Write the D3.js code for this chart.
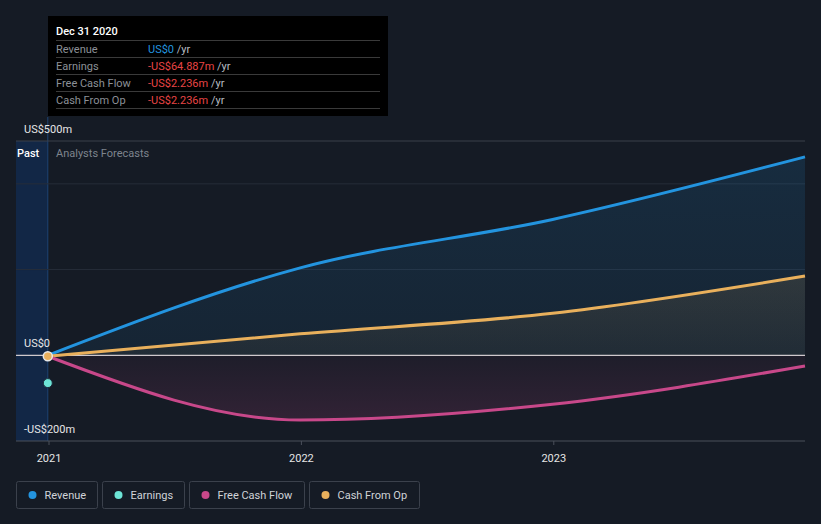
<!DOCTYPE html>
<html><head><meta charset="utf-8">
<script src="https://cdn.jsdelivr.net/npm/d3@7"></script>
<style>
html,body{margin:0;padding:0;background:#151b25;}
svg{display:block;font-family:Roboto,"Noto Sans",sans-serif;}
</style></head>
<body><svg id="c" width="821" height="524"></svg>
<script>
const dates = ["2020-12-31","2021-12-31","2022-12-31","2023-12-31"];
const revenue = [0, 204, 317, 463];
const cashFromOp = [-2.236, 50, 98, 185];
const freeCashFlow = [-2.236, -151, -114, -25];
const earningsDate = "2020-12-31";
const earnings = [-64.887];
const yTickLabels = [{v:500,t:"US$500m"},{v:0,t:"US$0"},{v:-200,t:"-US$200m"}];
const gridValues = [400, 200];
const xTicks = ["2021-01-01","2022-01-01","2023-01-01"];
const legendItems = ["Revenue","Earnings","Free Cash Flow","Cash From Op"];
const colors = {"Revenue":"#2394df","Earnings":"#6de4d6","Free Cash Flow":"#c8488a","Cash From Op":"#e9b05c"};
const tooltipRows = [
  {label:"Revenue", value:"US$0", color:"#2394df"},
  {label:"Earnings", value:"-US$64.887m", color:"#e84545"},
  {label:"Free Cash Flow", value:"-US$2.236m", color:"#e84545"},
  {label:"Cash From Op", value:"-US$2.236m", color:"#e84545"}
];

const parse = d3.timeParse("%Y-%m-%d");
const svg = d3.select("#c");
const x = d3.scaleTime().domain([parse("2020-11-15"), parse("2023-12-31")]).range([16, 805]);
const y = d3.scaleLinear().domain([-200, 500]).range([441, 141]);

const defs = svg.append("defs");
function grad(id, c, o1, o2){
  const g = defs.append("linearGradient").attr("id", id).attr("x1",0).attr("y1",0).attr("x2",0).attr("y2",1);
  g.append("stop").attr("offset","0%").attr("stop-color",c).attr("stop-opacity",o1);
  g.append("stop").attr("offset","100%").attr("stop-color",c).attr("stop-opacity",o2);
}
grad("gRev", "#2394df", 0.14, 0.08);
grad("gCfo", "#e9b05c", 0.12, 0.05);
grad("gFcf", "#c8488a", 0.05, 0.16);

// past region
const pastEnd = x(parse("2020-12-31"));
svg.append("rect").attr("x", 16).attr("y", 141).attr("width", pastEnd - 16).attr("height", 300).attr("fill", "#122746");
svg.append("line").attr("x1", pastEnd).attr("x2", pastEnd).attr("y1", 117).attr("y2", 441).attr("stroke", "#1d4474").attr("stroke-width", 1);

// gridlines
svg.selectAll(".grid").data(gridValues).join("line")
  .attr("x1", 16).attr("x2", 805).attr("y1", d => y(d)).attr("y2", d => y(d))
  .attr("stroke", "#262d39").attr("stroke-width", 1);
svg.append("line").attr("x1", 16).attr("x2", 805).attr("y1", y(500)).attr("y2", y(500)).attr("stroke", "#3a404a");

const pts = (arr) => arr.map((v,i) => ({d: parse(dates[i]), v}));
const curve = d3.curveMonotoneX;
const area = d3.area().x(d => x(d.d)).y0(y(0)).y1(d => y(d.v)).curve(curve);
const line = d3.line().x(d => x(d.d)).y(d => y(d.v)).curve(curve);

svg.append("path").attr("d", area(pts(revenue))).attr("fill", "url(#gRev)");
svg.append("path").attr("d", area(pts(cashFromOp))).attr("fill", "url(#gCfo)");
svg.append("path").attr("d", area(pts(freeCashFlow))).attr("fill", "url(#gFcf)");

// zero line
svg.append("line").attr("x1", 16).attr("x2", 805).attr("y1", y(0)).attr("y2", y(0)).attr("stroke", "#cfc8cc").attr("stroke-width", 1.2);

svg.append("path").attr("d", line(pts(revenue))).attr("fill","none").attr("stroke", colors["Revenue"]).attr("stroke-width", 3);
svg.append("path").attr("d", line(pts(cashFromOp))).attr("fill","none").attr("stroke", colors["Cash From Op"]).attr("stroke-width", 3);
svg.append("path").attr("d", line(pts(freeCashFlow))).attr("fill","none").attr("stroke", colors["Free Cash Flow"]).attr("stroke-width", 3);

// dots
svg.append("circle").attr("cx", x(parse(earningsDate))).attr("cy", y(earnings[0])).attr("r", 4.5)
  .attr("fill", colors["Earnings"]).attr("stroke", "#1b2a3a").attr("stroke-width", 1);
svg.append("circle").attr("cx", x(parse(dates[0]))).attr("cy", y(cashFromOp[0])).attr("r", 4.5)
  .attr("fill", colors["Cash From Op"]).attr("stroke", "#e8e8e8").attr("stroke-width", 1.5);

// x axis
svg.append("line").attr("x1", 16).attr("x2", 805).attr("y1", 441).attr("y2", 441).attr("stroke", "#4a505b").attr("stroke-width", 1);
const xAxisG = svg.append("g").attr("transform", "translate(0,441)");
xAxisG.call(d3.axisBottom(x).tickValues(xTicks.map(parse)).tickSize(4).tickFormat(d3.timeFormat("%Y")));
xAxisG.select(".domain").remove();
xAxisG.selectAll(".tick line").attr("stroke", "#4a505b");
xAxisG.selectAll(".tick text").attr("fill", "#e6e6e6").attr("font-size", 11).attr("dy", "1.3em").attr("font-family","Roboto, sans-serif");

// y labels
svg.selectAll(".ylab").data(yTickLabels).join("text")
  .attr("x", 24).attr("y", d => y(d.v) - 8).attr("fill", "#e6e6e6").attr("font-size", 11)
  .text(d => d.t);

svg.append("text").attr("x", 17).attr("y", 157).attr("fill", "#ffffff").attr("font-size", 11).attr("font-weight", 500).text("Past");
svg.append("text").attr("x", 56).attr("y", 157).attr("fill", "#7e848d").attr("font-size", 11).text("Analysts Forecasts");

// tooltip
const tt = svg.append("g");
tt.append("rect").attr("x", 48).attr("y", 16).attr("width", 340).attr("height", 100).attr("fill", "#000");
tt.append("text").attr("x", 56).attr("y", 35).attr("fill", "#fff").attr("font-size", 11).attr("font-weight", 500).text("Dec 31 2020");
tooltipRows.forEach((r, i) => {
  const yy = 40 + i * 17;
  tt.append("line").attr("x1", 56).attr("x2", 380).attr("y1", yy + 0.5).attr("y2", yy + 0.5).attr("stroke", "#3a3a3a");
  tt.append("text").attr("x", 56).attr("y", yy + 13).attr("fill", "#8c9097").attr("font-size", 11).text(r.label);
  const t = tt.append("text").attr("x", 148).attr("y", yy + 13).attr("font-size", 11);
  t.append("tspan").attr("fill", r.color).text(r.value);
  t.append("tspan").attr("fill", "#b8bcc2").text(" /yr");
});
tt.append("line").attr("x1", 56).attr("x2", 380).attr("y1", 108.5).attr("y2", 108.5).attr("stroke", "#3a3a3a");

// legend
const widths = [81, 82, 115, 110];
let lx = 16;
legendItems.forEach((name, i) => {
  const g = svg.append("g").attr("transform", `translate(${lx},481)`);
  g.append("rect").attr("x", 0.5).attr("y", 0.5).attr("width", widths[i]).attr("height", 27).attr("rx", 2)
    .attr("fill", "none").attr("stroke", "#3b414c");
  g.append("circle").attr("cx", 16.5).attr("cy", 14).attr("r", 4).attr("fill", colors[name]);
  g.append("text").attr("x", 28.5).attr("y", 18).attr("fill", "#d0d3d8").attr("font-size", 11).text(name);
  lx += widths[i] + 5;
});
</script></body></html>
